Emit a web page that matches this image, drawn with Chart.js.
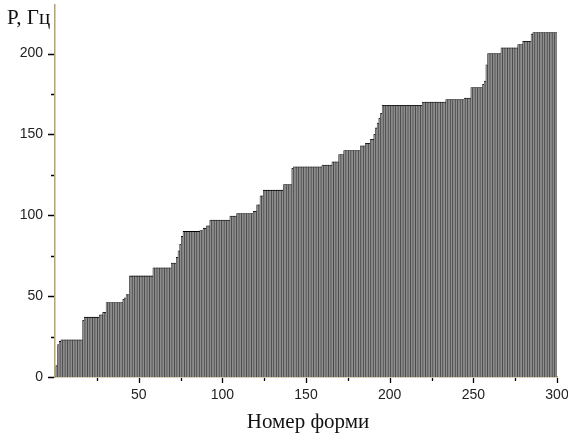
<!DOCTYPE html>
<html>
<head>
<meta charset="utf-8">
<script src="https://cdn.jsdelivr.net/npm/chart.js@4.4.0/dist/chart.umd.min.js"></script>
<style>
html,body{margin:0;padding:0;background:#fff;}
</style>
</head>
<body>
<canvas id="formChart" width="568" height="436"></canvas>
<script>
// ====================================
// DATA
// ====================================

const xTitle = "Номер форми";
const yTitle = "P, Гц";

const xTicks = [50, 100, 150, 200, 250, 300];
const yTicks = [0, 50, 100, 150, 200];
const xMinor = [25, 75, 125, 175, 225, 275];
const yMinor = [25, 75, 125, 175];

// frequency of each form, forms 1..300
const freqValues = [
    7,20,22,23,23,23,23,23,23,23,
    23,23,23,23,23,23,35,37,37,37,
    37,37,37,37,37,37,38.5,38.5,40,40,
    46,46,46,46,46,46,46,46,46,46,
    48,49,51,51,62.5,62.5,62.5,62.5,62.5,62.5,
    62.5,62.5,62.5,62.5,62.5,62.5,62.5,62.5,67.5,67.5,
    67.5,67.5,67.5,67.5,67.5,67.5,67.5,67.5,67.5,70.5,
    70.5,70.5,74,78,82,87,90,90,90,90,
    90,90,90,90,90,90,90.5,90.5,92,92,
    93.5,93.5,97,97,97,97,97,97,97,97,
    97,97,97,97,99.5,99.5,99.5,99.5,101,101,
    101,101,101,101,101,101,101,101,102.5,102.5,
    106.5,106.5,112,112,115.5,115.5,115.5,115.5,115.5,115.5,
    115.5,115.5,115.5,115.5,115.5,115.5,119,119,119,119,
    119,129,130,130,130,130,130,130,130,130,
    130,130,130,130,130,130,130,130,130,131,
    131,131,131,131,131,133,133,133,133,137.5,
    137.5,137.5,140,140,140,140,140,140,140,140,
    140,140,143,143,143,144.5,144.5,144.5,147,147,
    150,154,157,160,163,168,168,168,168,168,
    168,168,168,168,168,168,168,168,168,168,
    168,168,168,168,168,168,168,168,168,170,
    170,170,170,170,170,170,170,170,170,170,
    170,170,170,171.5,171.5,171.5,171.5,171.5,171.5,171.5,
    171.5,171.5,171.5,171.5,172.5,172.5,172.5,172.5,179,179,
    179,179,179,179,179,181,183,193,200,200,
    200,200,200,200,200,200,203.5,203.5,203.5,203.5,
    203.5,203.5,203.5,203.5,203.5,203.5,205.5,205.5,205.5,207.5,
    207.5,207.5,207.5,207.5,212,213,213,213,213,213,
    213,213,213,213,213,213,213,213,213,213
];

const formNumbers = freqValues.map((v, i) => i + 1);

// ====================================
// STYLE
// ====================================

const axisColor = "#b5a36a";
const tickFont = { family: "'Liberation Sans', Arial, sans-serif", size: 14 };

// tick marks + titles
const extrasPlugin = {
    id: "extras",
    afterDraw(chart){
        const ctx = chart.ctx;
        const xs = chart.scales.x;
        const ys = chart.scales.y;
        const area = chart.chartArea;

        ctx.save();
        ctx.strokeStyle = "#000";
        ctx.lineWidth = 1.3;
        ctx.beginPath();
        xTicks.forEach(v=>{
            const px = Math.round(xs.getPixelForValue(v)) + 0.5;
            ctx.moveTo(px, area.bottom + 1);
            ctx.lineTo(px, area.bottom + 6);
        });
        xMinor.forEach(v=>{
            const px = Math.round(xs.getPixelForValue(v)) + 0.5;
            ctx.moveTo(px, area.bottom + 1);
            ctx.lineTo(px, area.bottom + 4);
        });
        yTicks.forEach(v=>{
            const py = Math.round(ys.getPixelForValue(v)) + 0.5;
            ctx.moveTo(area.left - 1, py);
            ctx.lineTo(area.left - 7, py);
        });
        yMinor.forEach(v=>{
            const py = Math.round(ys.getPixelForValue(v)) + 0.5;
            ctx.moveTo(area.left - 1, py);
            ctx.lineTo(area.left - 4, py);
        });
        ctx.stroke();

        ctx.fillStyle = "#111";
        ctx.font = "21px 'Liberation Serif', 'Times New Roman', serif";
        ctx.textBaseline = "middle";
        ctx.textAlign = "center";
        ctx.fillText(xTitle, 308, 422);
        ctx.textAlign = "left";
        ctx.fillText(yTitle, 7, 18);
        ctx.restore();
    }
};

// ====================================
// CHART
// ====================================

const ctxForm = document.getElementById("formChart").getContext("2d");
const formChart = new Chart(ctxForm, {
    type: "bar",
    data: {
        datasets: [{
            data: freqValues.map((v, i) => ({ x: formNumbers[i], y: v })),
            backgroundColor: "#8e8e8e",
            borderColor: "#000",
            borderWidth: { top: 0.8, left: 0.3, right: 0.3, bottom: 0 },
            barPercentage: 1,
            categoryPercentage: 1
        }]
    },
    options: {
        responsive: false,
        animation: false,
        layout: { padding: { top: 5, right: 11, left: 0, bottom: 0 } },
        plugins: {
            legend: { display: false },
            tooltip: { enabled: false }
        },
        scales: {
            x: {
                type: "linear",
                min: 0,
                max: 300,
                offset: false,
                border: { color: axisColor, width: 1.5 },
                grid: { display: false, tickLength: 6 },
                ticks: { font: tickFont, color: "#222", padding: 4, maxRotation: 0 },
                afterBuildTicks: s => { s.ticks = xTicks.map(v => ({ value: v })); },
                afterFit: s => {
                    s.height = 59;
                    s.paddingLeft = 0;
                    s.paddingRight = 0;
                }
            },
            y: {
                min: 0,
                max: 230,
                border: { color: axisColor, width: 1.5 },
                grid: { display: false, tickLength: 6 },
                ticks: { font: tickFont, color: "#222", padding: 6 },
                afterBuildTicks: s => { s.ticks = yTicks.map(v => ({ value: v })); },
                afterFit: s => {
                    s.width = 55;
                    s.paddingTop = 0;
                    s.paddingBottom = 0;
                }
            }
        }
    },
    plugins: [extrasPlugin]
});
</script>
</body>
</html>
